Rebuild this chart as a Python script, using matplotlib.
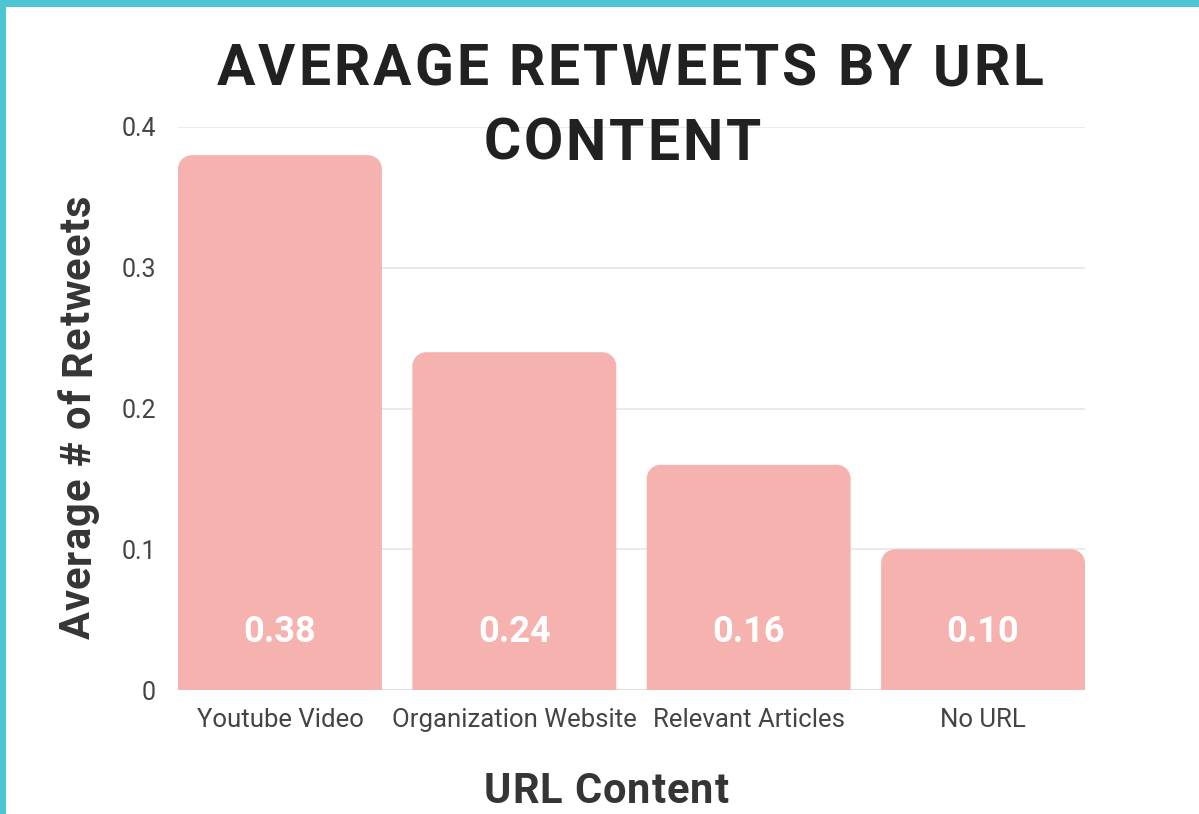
import matplotlib
matplotlib.use("Agg")
import matplotlib.pyplot as plt
from matplotlib.patches import PathPatch, Rectangle
from matplotlib.path import Path

categories = ['Youtube Video', 'Organization Website', 'Relevant Articles', 'No URL']
values = [0.38, 0.24, 0.16, 0.10]
yticks = [0, 0.1, 0.2, 0.3, 0.4]
ytick_labels = ['0', '0.1', '0.2', '0.3', '0.4']

bar_color = '#F6B2AF'
dark = '#212121'
label_color = '#353535'
grey_text = '#444444'

plt.rcParams['font.family'] = ['Roboto', 'DejaVu Sans']

W, H = 1199, 814
fig = plt.figure(figsize=(W / 100, H / 100), dpi=100)
ax = fig.add_axes([178 / W, 1 - 690 / H, 907 / W, 563 / H])
renderer = fig.canvas.get_renderer()


def rounded_top_bar(x0, x1, h, rx, ry):
    k = 0.5523
    verts = [(x0, 0), (x0, h - ry),
             (x0, h - ry + k * ry), (x0 + rx - k * rx, h), (x0 + rx, h),
             (x1 - rx, h),
             (x1 - rx + k * rx, h), (x1, h - ry + k * ry), (x1, h - ry),
             (x1, 0), (x0, 0)]
    codes = [Path.MOVETO, Path.LINETO,
             Path.CURVE4, Path.CURVE4, Path.CURVE4,
             Path.LINETO,
             Path.CURVE4, Path.CURVE4, Path.CURVE4,
             Path.LINETO, Path.CLOSEPOLY]
    return Path(verts, codes)


def tracked_text(s, cx, cy, size, tracking, rotation=0, color=dark):
    # letter-spaced text, cx/cy in pixels from the bottom-left; cy is the baseline
    def width(t):
        tt = fig.text(0, 0, t, fontsize=size, fontweight='bold')
        w = tt.get_window_extent(renderer).width
        tt.remove()
        return w
    total = width(s) + tracking * (len(s) - 1)
    start = -total / 2
    for i, ch in enumerate(s):
        if ch == ' ':
            continue
        d = start + width(s[:i + 1]) - width(ch) + i * tracking
        if rotation == 0:
            x, y = cx + d, cy
        else:
            x, y = cx, cy + d
        fig.text(x / W, y / H, ch, fontsize=size, fontweight='bold', color=color,
                 rotation=rotation, rotation_mode='anchor', ha='left', va='baseline')


bar_width = 0.87
xs = list(range(len(categories)))
bars = ax.bar(xs, values, width=bar_width, color=bar_color, zorder=2)
ax.set_xlim(-bar_width / 2, len(categories) - 1 + bar_width / 2)
ax.set_ylim(0, 0.4)

# swap the plain bars for ones with rounded top corners
bbox = ax.get_window_extent()
x_per_px = (ax.get_xlim()[1] - ax.get_xlim()[0]) / bbox.width
y_per_px = (ax.get_ylim()[1] - ax.get_ylim()[0]) / bbox.height
radius_px = 14
for b in bars:
    x, w, h = b.get_x(), b.get_width(), b.get_height()
    b.set_visible(False)
    path = rounded_top_bar(x, x + w, h, radius_px * x_per_px, radius_px * y_per_px)
    ax.add_patch(PathPatch(path, facecolor=bar_color, edgecolor='none', zorder=2))

for x, v in zip(xs, values):
    ax.text(x, 0.041, f'{v:.2f}', ha='center', va='center', color='white',
            fontsize=26, fontweight='bold', zorder=3)

ax.set_yticks(yticks)
ax.set_yticklabels(ytick_labels)
ax.set_xticks(xs)
ax.set_xticklabels(categories)
ax.tick_params(axis='both', length=0, labelsize=18.5, labelcolor=grey_text)
ax.tick_params(axis='y', labelsize=18, pad=16)
ax.tick_params(axis='x', pad=13)

for s in ax.spines.values():
    s.set_visible(False)
ax.grid(axis='y', color='#E6E6E6', linewidth=1.2, zorder=0)
ax.axhline(0, color='#C8C8C8', linewidth=1.5, zorder=1)

tracked_text('Average # of Retweets', 90, H - 417, 30, 1, rotation=90, color=label_color)
tracked_text('URL Content', 606, H - 803, 30, 1, color=label_color)

tracked_text('AVERAGE RETWEETS BY URL', 630, H - 85, 41, 3)
tracked_text('CONTENT', 622, H - 160, 41, 3)

# cyan frame along the top and left edges
fig.add_artist(Rectangle((0, 1 - 7 / H), 1, 7 / H, transform=fig.transFigure,
                         facecolor='#4EC5D3', edgecolor='none'))
fig.add_artist(Rectangle((0, 0), 6 / W, 1, transform=fig.transFigure,
                         facecolor='#4EC5D3', edgecolor='none'))

fig.savefig('out.png', dpi=100)
